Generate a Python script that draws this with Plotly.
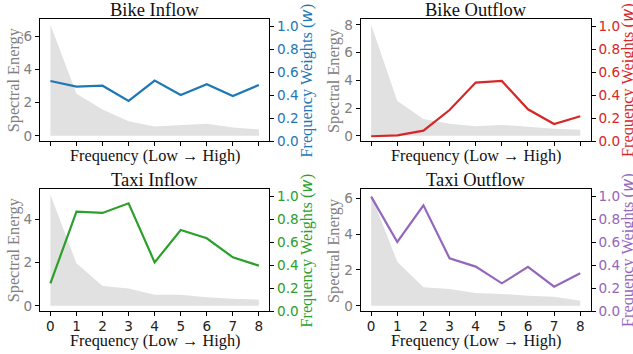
import plotly.graph_objects as go

freq = list(range(9))
tick_labels = [str(i) for i in freq]

titles = ["Bike Inflow", "Bike Outflow", "Taxi Inflow", "Taxi Outflow"]
bike_in_energy = [6.7, 2.53, 1.58, 0.87, 0.56, 0.65, 0.72, 0.50, 0.38]
bike_in_weights = [0.526, 0.477, 0.485, 0.352, 0.529, 0.404, 0.497, 0.395, 0.491]
bike_out_energy = [8.0, 2.5, 1.21, 0.87, 0.68, 0.78, 0.65, 0.50, 0.44]
bike_out_weights = [0.044, 0.052, 0.093, 0.273, 0.512, 0.526, 0.279, 0.151, 0.218]
taxi_in_energy = [5.15, 1.97, 0.92, 0.80, 0.51, 0.51, 0.40, 0.32, 0.28]
taxi_in_weights = [0.244, 0.869, 0.858, 0.942, 0.427, 0.709, 0.637, 0.471, 0.398]
taxi_out_energy = [6.2, 2.46, 1.03, 0.94, 0.71, 0.66, 0.56, 0.50, 0.28]
taxi_out_weights = [1.0, 0.605, 0.924, 0.462, 0.390, 0.244, 0.387, 0.215, 0.331]

energies = [bike_in_energy, bike_out_energy, taxi_in_energy, taxi_out_energy]
weights = [bike_in_weights, bike_out_weights, taxi_in_weights, taxi_out_weights]
colors = ["#1f77b4", "#d62728", "#2ca02c", "#9467bd"]

W, H = 633, 354
# panel boxes in pixels: left, right, top, bottom
boxes = [(40, 269.3, 19.3, 141.3), (360.7, 590.7, 19.3, 141.3),
         (40, 269.3, 189.3, 311.3), (360.7, 590.7, 189.3, 311.3)]

SERIF = "Liberation Serif, Times New Roman, serif"
SANS = "DejaVu Sans, sans-serif"
GREY = "#808080"

fig = go.Figure()
layout = dict(width=W, height=H, margin=dict(l=0, r=0, t=0, b=0, autoexpand=False),
              paper_bgcolor="white", plot_bgcolor="white", showlegend=False,
              template="none")
annotations = []

for i in range(4):
    l, r, t, b = boxes[i]
    xa = f"x{i+1}" if i else "x"
    ya = f"y{2*i+1}" if i else "y"
    yb = f"y{2*i+2}"
    xkey = f"xaxis{i+1}" if i else "xaxis"
    ykey = f"yaxis{2*i+1}" if i else "yaxis"
    ykey2 = f"yaxis{2*i+2}"

    e = energies[i]
    fig.add_trace(go.Scatter(x=freq, y=e, xaxis=xa, yaxis=ya, mode="lines",
                             line=dict(width=0, color="#e0e0e0"), fill="tozeroy",
                             fillcolor="#e1e1e1", hoverinfo="skip"))
    fig.add_trace(go.Scatter(x=freq, y=weights[i], xaxis=xa, yaxis=yb, mode="lines",
                             line=dict(width=2.2, color=colors[i])))

    emax = max(e)
    bottom_row = i >= 2
    layout[xkey] = dict(domain=[l / W, r / W], anchor=ya, range=[-0.4, 8.4],
                        tickmode="array", tickvals=freq, ticktext=tick_labels,
                        showticklabels=bottom_row, ticks="outside", ticklen=4,
                        tickcolor="black", showgrid=False, zeroline=False,
                        showline=True, mirror=True, linecolor="black", linewidth=1,
                        automargin=False, ticklabelstandoff=-2,
                        tickfont=dict(family=SANS, size=13.6, color="#222"))
    layout[ykey] = dict(domain=[1 - b / H, 1 - t / H], anchor=xa,
                        range=[-0.05 * emax, 1.05 * emax], dtick=2, tick0=0,
                        ticks="outside", ticklen=4, tickcolor="black",
                        showgrid=False, zeroline=False, showline=True,
                        linecolor="black", linewidth=1, automargin=False,
                        tickfont=dict(family=SANS, size=13.6, color=GREY))
    layout[ykey2] = dict(overlaying=ya, anchor=xa, side="right", range=[0, 1.064],
                         tickmode="array", tickvals=[0, 0.2, 0.4, 0.6, 0.8, 1.0],
                         ticktext=["0.0", "0.2", "0.4", "0.6", "0.8", "1.0"],
                         ticks="outside", ticklen=4, tickcolor="black",
                         showgrid=False, zeroline=False, showline=True,
                         linecolor="black", linewidth=1, automargin=False,
                         tickfont=dict(family=SANS, size=13.6, color=colors[i]))

    cx = (l + r) / 2
    annotations.append(dict(text=titles[i], x=cx / W, y=1 - (t - 9.5) / H,
                            xref="paper", yref="paper", showarrow=False,
                            xanchor="center", yanchor="middle",
                            font=dict(family=SERIF, size=18.5, color="#111")))
    xl_y = b + (14 if not bottom_row else 29)
    annotations.append(dict(text="Frequency (Low \u2192 High)", x=cx / W, y=1 - xl_y / H,
                            xref="paper", yref="paper", showarrow=False,
                            xanchor="center", yanchor="middle",
                            font=dict(family=SERIF, size=16.3, color="#111")))
    annotations.append(dict(text="Spectral Energy", x=(l - 27) / W, y=1 - ((t + b) / 2) / H,
                            xref="paper", yref="paper", showarrow=False, textangle=-90,
                            xanchor="center", yanchor="middle",
                            font=dict(family=SERIF, size=16.3, color=GREY)))
    annotations.append(dict(
        text='Frequency Weights (<span style="font-family:DejaVu Sans;font-style:italic">w</span>)',
        x=(r + 37) / W, y=1 - ((t + b) / 2) / H,
        xref="paper", yref="paper", showarrow=False, textangle=-90,
        xanchor="center", yanchor="middle",
        font=dict(family=SERIF, size=16.3, color=colors[i])))

layout["annotations"] = annotations
fig.update_layout(**layout)
fig.write_html("out.html", config={"displayModeBar": False},
               post_script="document.body.style.margin='0';document.body.style.padding='0';")
